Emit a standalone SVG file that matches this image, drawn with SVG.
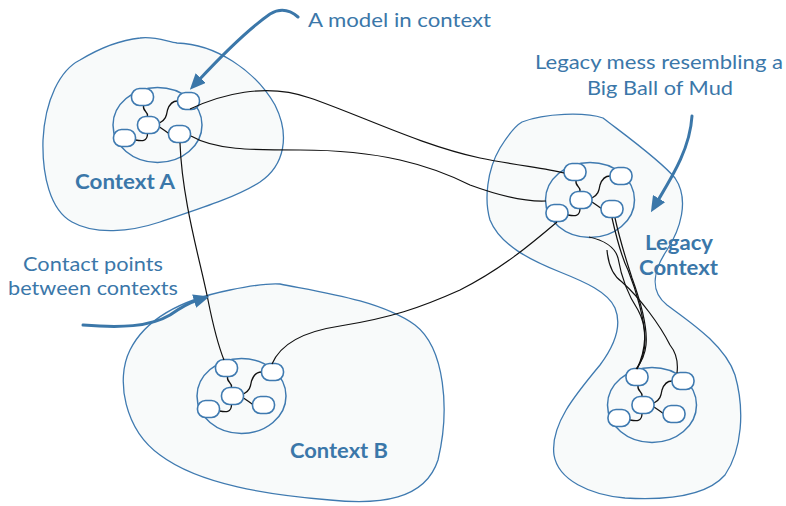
<svg xmlns="http://www.w3.org/2000/svg" xmlns:xlink="http://www.w3.org/1999/xlink" width="786" height="506" viewBox="0 0 786 506">
<style>
.blob{fill:#f8fafa;stroke:#3f7ab0;stroke-width:1.3}
.inner{fill:#f8fafa;stroke:#3f7ab0;stroke-width:1.5}
.n{fill:#ffffff;stroke:#3f7ab0;stroke-width:1.6}
.il{fill:none;stroke:#111;stroke-width:1.3}
.link{fill:none;stroke:#111;stroke-width:1.2}
.arrow{fill:none;stroke:#3b77a9;stroke-width:3;stroke-linecap:round}
.note{font-family:Lato,"Open Sans",sans-serif;font-size:20px;fill:#3b77a9}
.lbl{font-family:Lato,"Open Sans",sans-serif;font-size:20px;font-weight:bold;fill:#3b77a9}
</style>
<defs>
<marker id="ah" markerWidth="16" markerHeight="14" refX="4" refY="7" orient="auto" markerUnits="userSpaceOnUse">
<path d="M0,0 L16,7 L0,14 Z" fill="#3b77a9"/>
</marker>
<g id="model">
<ellipse cx="0" cy="0" rx="44.5" ry="37.5" class="inner"/>
<path class="il" d="M -14,-19.5 C -15,-13 -9,-14 -10,-8.5"/>
<path class="il" d="M 2,-2 C 8,-5 9,-9 10,-15 C 12,-21 15,-24 20,-24"/>
<path class="il" d="M 2,2 C 5,4 8,6 12,9"/>
<path class="il" d="M -22,15 C -16,16 -10,17 -10,8.5"/>
<rect class="n" x="-26" y="-36.5" width="22" height="17" rx="8"/>
<rect class="n" x="20" y="-32.5" width="22" height="17" rx="8"/>
<rect class="n" x="-20" y="-8.5" width="22" height="17" rx="8"/>
<rect class="n" x="-44" y="4.5" width="22" height="17" rx="8"/>
<rect class="n" x="11" y="0.5" width="22" height="17" rx="8"/>
</g>
</defs>

<g id="contextA">
<path class="blob" d="M 140,38 C 155,36 168,42 177,43 C 215,44 255,70 275,105 C 290,135 285,165 260,182 C 235,198 195,210 160,222 C 130,232 95,235 72,222 C 50,210 42,175 43,140 C 45,100 60,70 80,60 C 100,48 120,40 140,38 Z"/>
<text class="lbl" x="75" y="189" textLength="100" lengthAdjust="spacingAndGlyphs">Context A</text>
</g>

<g id="contextB">
<path class="blob" d="M 280,284 C 320,292 380,300 415,325 C 445,348 450,410 438,460 C 425,500 380,505 330,500 C 270,495 200,485 160,455 C 125,430 115,380 130,350 C 145,320 180,300 230,290 C 255,285 270,283 280,284 Z"/>
<text class="lbl" x="290" y="458" textLength="98" lengthAdjust="spacingAndGlyphs">Context B</text>
</g>

<g id="legacyContext">
<path class="blob" d="M 522,122 C 545,113 585,112 603,118 C 625,135 660,160 675,178 C 690,200 680,230 667,250 C 655,268 648,290 667,305 C 690,322 725,345 735,375 C 745,410 742,450 725,475 C 705,498 660,500 625,498 C 590,495 558,480 554,455 C 550,425 575,395 600,365 C 615,345 622,325 615,308 C 608,292 585,282 560,272 C 530,260 500,245 490,220 C 484,200 487,170 500,148 C 508,135 515,126 522,122 Z"/>
<text class="lbl" x="645" y="250" textLength="68" lengthAdjust="spacingAndGlyphs">Legacy</text>
<text class="lbl" x="639" y="275" textLength="79" lengthAdjust="spacingAndGlyphs">Context</text>
</g>

<g id="modelA"><use xlink:href="#model" href="#model" x="157.5" y="125"/></g>
<g id="modelB"><use xlink:href="#model" href="#model" x="241.5" y="396"/></g>
<g id="modelLegacy1"><use xlink:href="#model" href="#model" x="590" y="200"/></g>
<g id="modelLegacy2"><use xlink:href="#model" href="#model" x="652" y="405"/></g>

<g id="connectors">
<path class="link" d="M 190,109 C 220,95 265,82 310,98 C 360,115 420,145 480,158 C 520,166 545,168 564,173"/>
<path class="link" d="M 191,136 C 215,150 250,150 300,150 C 380,150 430,165 470,185 C 500,196 525,202 546,201"/>
<path class="link" d="M 180,143 C 182,200 200,260 208,300 C 214,330 218,345 224,360"/>
<path class="link" d="M 272,364 C 280,345 300,332 340,326 C 390,318 420,308 460,290 C 500,270 530,245 557,222"/>
<path class="link" d="M 589,237 C 603,240 615,247 618,258 C 621,275 628,295 638,310 C 648,328 646,350 637,369"/>
<path class="link" d="M 607,250 C 608,262 612,275 622,282 C 640,298 660,325 670,345 C 678,355 678,365 677,373"/>
<path class="link" d="M 612,218 C 617,240 622,258 628,270 C 636,290 645,320 645,340 C 645,352 641,362 637,369"/>
<path class="link" d="M 615,218 C 621,245 627,262 632,278 C 640,300 648,325 646,345 C 645,356 640,364 636,369"/>
</g>

<g id="annotations">
<path class="arrow" marker-end="url(#ah)" d="M 298,17 C 290,10 280,8 270,14 C 250,28 225,52 198,81"/>
<text class="note" x="308" y="27" textLength="183" lengthAdjust="spacingAndGlyphs">A model in context</text>
<path class="arrow" marker-end="url(#ah)" d="M 692,116 C 690,150 670,180 657,202"/>
<text class="note" x="535" y="69" textLength="248" lengthAdjust="spacingAndGlyphs">Legacy mess resembling a</text>
<text class="note" x="587" y="95" textLength="146" lengthAdjust="spacingAndGlyphs">Big Ball of Mud</text>
<path class="arrow" marker-end="url(#ah)" d="M 83,325 C 120,328 150,327 170,315 C 180,308 188,303 198,300"/>
<text class="note" x="23" y="271" textLength="140" lengthAdjust="spacingAndGlyphs">Contact points</text>
<text class="note" x="8" y="295" textLength="170" lengthAdjust="spacingAndGlyphs">between contexts</text>
</g>
</svg>
